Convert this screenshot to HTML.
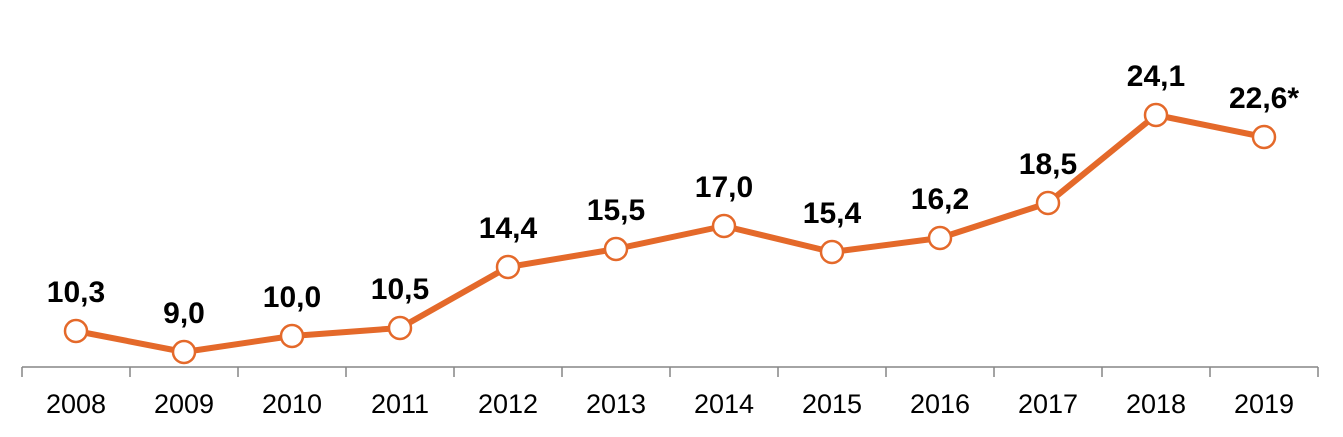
<!DOCTYPE html>
<html><head><meta charset="utf-8"><style>
html,body{margin:0;padding:0;background:#fff;}
svg{display:block;font-family:"Liberation Sans",Arial,sans-serif;}
</style></head><body>
<svg width="1343" height="437" viewBox="0 0 1343 437">
<line x1="22" y1="367" x2="1318" y2="367" stroke="#868686" stroke-width="1.5"/>
<g stroke="#868686" stroke-width="1.5">
<line x1="22" y1="367" x2="22" y2="377"/><line x1="130" y1="367" x2="130" y2="377"/><line x1="238" y1="367" x2="238" y2="377"/><line x1="346" y1="367" x2="346" y2="377"/><line x1="454" y1="367" x2="454" y2="377"/><line x1="562" y1="367" x2="562" y2="377"/><line x1="670" y1="367" x2="670" y2="377"/><line x1="778" y1="367" x2="778" y2="377"/><line x1="886" y1="367" x2="886" y2="377"/><line x1="994" y1="367" x2="994" y2="377"/><line x1="1102" y1="367" x2="1102" y2="377"/><line x1="1210" y1="367" x2="1210" y2="377"/><line x1="1318" y1="367" x2="1318" y2="377"/>
</g>
<g font-size="27" text-anchor="middle" fill="#000">
<text x="76" y="413">2008</text><text x="184" y="413">2009</text><text x="292" y="413">2010</text><text x="400" y="413">2011</text><text x="508" y="413">2012</text><text x="616" y="413">2013</text><text x="724" y="413">2014</text><text x="832" y="413">2015</text><text x="940" y="413">2016</text><text x="1048" y="413">2017</text><text x="1156" y="413">2018</text><text x="1264" y="413">2019</text>
</g>
<polyline fill="none" stroke="#E4692A" stroke-width="6" stroke-linejoin="round" points="76,331 184,352 292,336 400,328 508,267 616,249 724,226 832,252 940,238 1048,203 1156,115 1264,137"/>
<g fill="#fff" stroke="#E4692A" stroke-width="2.5">
<circle cx="76" cy="331" r="11"/><circle cx="184" cy="352" r="11"/><circle cx="292" cy="336" r="11"/><circle cx="400" cy="328" r="11"/><circle cx="508" cy="267" r="11"/><circle cx="616" cy="249" r="11"/><circle cx="724" cy="226" r="11"/><circle cx="832" cy="252" r="11"/><circle cx="940" cy="238" r="11"/><circle cx="1048" cy="203" r="11"/><circle cx="1156" cy="115" r="11"/><circle cx="1264" cy="137" r="11"/>
</g>
<g font-size="30" font-weight="bold" text-anchor="middle" fill="#000">
<text x="76" y="302">10,3</text><text x="184" y="323">9,0</text><text x="292" y="307">10,0</text><text x="400" y="299">10,5</text><text x="508" y="238">14,4</text><text x="616" y="220">15,5</text><text x="724" y="197">17,0</text><text x="832" y="223">15,4</text><text x="940" y="209">16,2</text><text x="1048" y="174">18,5</text><text x="1156" y="86">24,1</text><text x="1264" y="108">22,6*</text>
</g>
</svg>
</body></html>
